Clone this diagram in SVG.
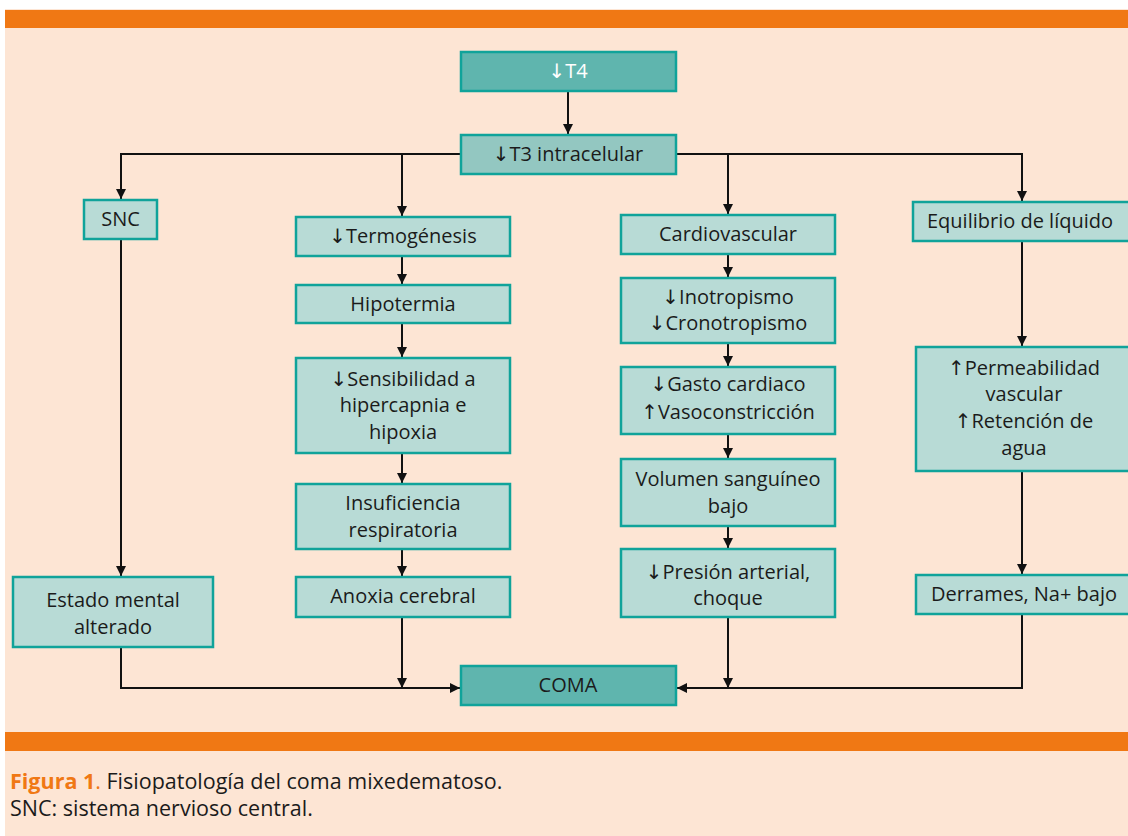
<svg xmlns="http://www.w3.org/2000/svg" width="1128" height="836" viewBox="0 0 1128 836">
<defs>
<marker id="ah" markerUnits="userSpaceOnUse" markerWidth="12" markerHeight="12" refX="10" refY="5" orient="auto">
<path d="M0,0 L10,5 L0,10 z" fill="#111"/>
</marker>
<style>
.bx{fill:#b8dbd6;stroke:#10a39a;stroke-width:2.5}
.dk{fill:#5fb5ae;stroke:#10a39a;stroke-width:2.5}
.md{fill:#93c7c1;stroke:#10a39a;stroke-width:2.5}
.t{font-family:"Open Sans","DejaVu Sans",sans-serif;font-size:20px;fill:#1b1b1b;text-anchor:middle}
.w{fill:#ffffff}
.c{fill:none;stroke:#111;stroke-width:2}
.cap{font-family:"Open Sans","DejaVu Sans",sans-serif;font-size:21.5px;fill:#1b1b1b}
</style>
</defs>
<rect x="0" y="0" width="1128" height="836" fill="#ffffff"/>
<rect x="5" y="9" width="1123" height="827" fill="#fde5d4"/>
<rect x="5" y="10" width="1123" height="18" fill="#f07814"/>
<rect x="5" y="732" width="1123" height="19" fill="#f07814"/>

<g id="connectors">
<path class="c" d="M568,91 V134" marker-end="url(#ah)"/>
<path class="c" d="M461,154 H121 V199" marker-end="url(#ah)"/>
<path class="c" d="M402,154 V216" marker-end="url(#ah)"/>
<path class="c" d="M676,154 H1022 V201" marker-end="url(#ah)"/>
<path class="c" d="M728,154 V214" marker-end="url(#ah)"/>
<path class="c" d="M402,256 V284" marker-end="url(#ah)"/>
<path class="c" d="M402,323 V357" marker-end="url(#ah)"/>
<path class="c" d="M402,453 V483" marker-end="url(#ah)"/>
<path class="c" d="M402,549 V576" marker-end="url(#ah)"/>
<path class="c" d="M402,617 V688" marker-end="url(#ah)"/>
<path class="c" d="M728,254 V277" marker-end="url(#ah)"/>
<path class="c" d="M728,343 V366" marker-end="url(#ah)"/>
<path class="c" d="M728,434 V458" marker-end="url(#ah)"/>
<path class="c" d="M728,526 V548" marker-end="url(#ah)"/>
<path class="c" d="M728,617 V688" marker-end="url(#ah)"/>
<path class="c" d="M121,239 V576" marker-end="url(#ah)"/>
<path class="c" d="M121,647 V688 H460" marker-end="url(#ah)"/>
<path class="c" d="M1022,241 V346" marker-end="url(#ah)"/>
<path class="c" d="M1022,471 V574" marker-end="url(#ah)"/>
<path class="c" d="M1022,614 V688 H677" marker-end="url(#ah)"/>
</g>

<g id="t4"><rect class="dk" x="461" y="52" width="215" height="39"/><text class="t w" x="568" y="78">↓T4</text></g>
<g id="t3"><rect class="md" x="461" y="135" width="215" height="39"/><text class="t" x="568" y="161">↓T3 intracelular</text></g>
<g id="snc"><rect class="bx" x="84" y="200" width="73" height="39"/><text class="t" x="120.5" y="226">SNC</text></g>
<g id="termo"><rect class="bx" x="296" y="217" width="214" height="39"/><text class="t" x="403" y="243">↓Termogénesis</text></g>
<g id="hipo"><rect class="bx" x="296" y="285" width="214" height="38"/><text class="t" x="403" y="311">Hipotermia</text></g>
<g id="sens"><rect class="bx" x="296" y="358" width="214" height="95"/><text class="t" x="403" y="386">↓Sensibilidad a</text><text class="t" x="403" y="412">hipercapnia e</text><text class="t" x="403" y="439">hipoxia</text></g>
<g id="insuf"><rect class="bx" x="296" y="484" width="214" height="65"/><text class="t" x="403" y="510">Insuficiencia</text><text class="t" x="403" y="537">respiratoria</text></g>
<g id="anoxia"><rect class="bx" x="296" y="577" width="214" height="40"/><text class="t" x="403" y="603">Anoxia cerebral</text></g>
<g id="estado"><rect class="bx" x="13" y="577" width="200" height="70"/><text class="t" x="113" y="607">Estado mental</text><text class="t" x="113" y="634">alterado</text></g>
<g id="cardio"><rect class="bx" x="621" y="215" width="214" height="39"/><text class="t" x="728" y="241">Cardiovascular</text></g>
<g id="ino"><rect class="bx" x="621" y="278" width="214" height="65"/><text class="t" x="728" y="304">↓Inotropismo</text><text class="t" x="728" y="330">↓Cronotropismo</text></g>
<g id="gasto"><rect class="bx" x="621" y="367" width="214" height="67"/><text class="t" x="728" y="391">↓Gasto cardiaco</text><text class="t" x="728" y="419">↑Vasoconstricción</text></g>
<g id="volumen"><rect class="bx" x="621" y="459" width="214" height="67"/><text class="t" x="728" y="486">Volumen sanguíneo</text><text class="t" x="728" y="513">bajo</text></g>
<g id="presion"><rect class="bx" x="621" y="549" width="214" height="68"/><text class="t" x="728" y="579">↓Presión arterial,</text><text class="t" x="728" y="605">choque</text></g>
<g id="equil"><rect class="bx" x="913" y="202" width="220" height="39"/><text class="t" x="1020" y="228">Equilibrio de líquido</text></g>
<g id="perm"><rect class="bx" x="916" y="347" width="220" height="124"/><text class="t" x="1024" y="375">↑Permeabilidad</text><text class="t" x="1024" y="401">vascular</text><text class="t" x="1024" y="428">↑Retención de</text><text class="t" x="1024" y="455">agua</text></g>
<g id="derrames"><rect class="bx" x="916" y="575" width="220" height="39"/><text class="t" x="1024" y="601">Derrames, Na+ bajo</text></g>
<g id="coma"><rect class="dk" x="461" y="666" width="215" height="39"/><text class="t" x="568" y="692">COMA</text></g>

<g id="caption">
<text class="cap" x="10" y="789"><tspan fill="#f07814" font-weight="bold">Figura 1</tspan><tspan fill="#f07814">.</tspan> Fisiopatología del coma mixedematoso.</text>
<text class="cap" x="10" y="816">SNC: sistema nervioso central.</text>
</g>
</svg>
